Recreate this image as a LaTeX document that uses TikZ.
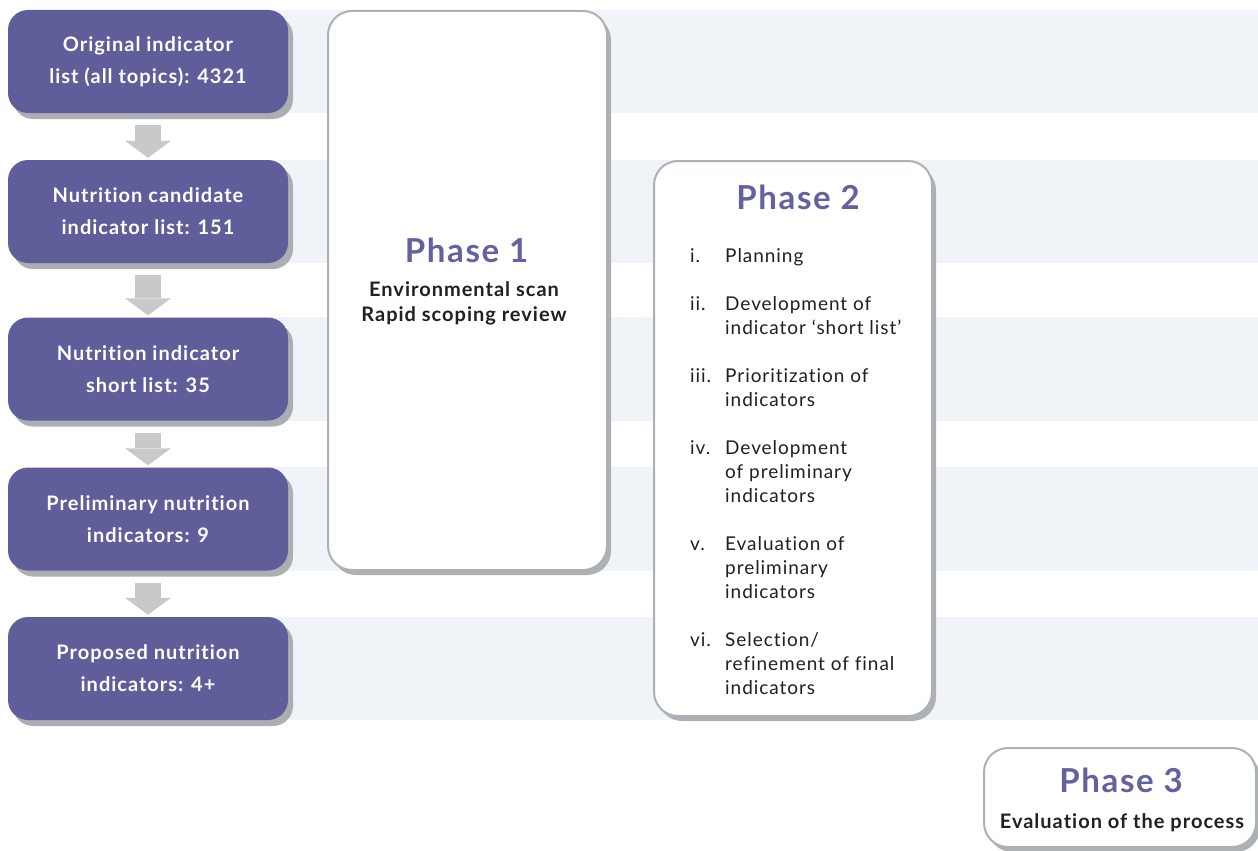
\documentclass[tikz,border=0pt]{standalone}
\usepackage{fontspec}
\setmainfont{Lato}[LetterSpace=5, Ligatures={TeX,NoCommon}]
\usetikzlibrary{arrows.meta,shadows,backgrounds}

\definecolor{stagepurple}{HTML}{605D9B}
\definecolor{titlepurple}{HTML}{6461A1}
\definecolor{shadowgray}{HTML}{ABAEB2}
\definecolor{bordergray}{HTML}{ADB0B4}
\definecolor{arrowgray}{HTML}{C8C9CB}
\definecolor{bandblue}{HTML}{F0F3F7}
\definecolor{darktext}{HTML}{231F20}

\begin{document}
\begin{tikzpicture}[x=1pt, y=-1pt,
	stage/.style={fill=stagepurple, text=white, rounded corners=20pt, minimum width=280pt, minimum height=103pt, align=center, inner sep=0pt,
		font=\bfseries\fontsize{20}{32}\selectfont, drop shadow={shadow xshift=5pt, shadow yshift=-6pt, fill=shadowgray, opacity=1}},
	phasebox/.style={draw=bordergray, line width=2pt, fill=white, rounded corners=24pt, inner sep=0pt,
		drop shadow={shadow xshift=4pt, shadow yshift=-5pt, fill=bordergray, opacity=1}},
	phasetitle/.style={text=titlepurple, font=\bfseries\fontsize{33}{40}\selectfont, inner sep=0pt, anchor=base},
	phasenote/.style={text=darktext, font=\bfseries\fontsize{20}{25}\selectfont, align=center, inner sep=0pt},
	flowarrow/.style={draw=arrowgray, line width=26.5pt, -{Triangle[width=46pt, length=17pt, line width=0pt]}, shorten <=12pt, shorten >=2pt}]
	\useasboundingbox (0,0) rectangle (1258,851);
	\coordinate (edge) at (1258,0);

	\node [stage] (o1) at (148,61.5) {Original indicator\\list (all topics): 4321};
	\node [stage] (o2) at (148,211.5) {Nutrition candidate\\indicator list: 151};
	\node [stage] (o3) at (148,369) {Nutrition indicator\\short list: 35};
	\node [stage] (o4) at (148,519) {Preliminary nutrition\\indicators: 9};
	\node [stage] (o5) at (148,668.5) {Proposed nutrition\\indicators: 4+};

	\begin{scope}[on background layer]
		\foreach \n in {1,...,5}
			\fill [bandblue] (o\n.north) rectangle (o\n.south -| edge);
	\end{scope}

	\foreach \a/\b in {o1/o2, o2/o3, o3/o4, o4/o5}
		\draw [flowarrow] (\a) -- (\b);

	\node [phasebox, minimum width=279pt, minimum height=559pt] (phase1) at (467.5,290.5) {};
	\node [phasebox, minimum width=278pt, minimum height=555pt] (phase2) at (793,438.5) {};
	\node [phasebox, minimum width=272pt, minimum height=99pt] (phase3) at (1120,797.5) {};

	\node [phasetitle] (p1title) at (466.5,262) {Phase 1};
	\node [phasenote, anchor=north] (p1note) at (464,281) {Environmental scan\\Rapid scoping review};

	\node [phasetitle] (p2title) at (798,209) {Phase 2};
	\node [anchor=north west, inner sep=0pt, text=darktext, font=\fontsize{19}{24}\selectfont] (p2steps) at (690,245) {%
		\begin{tabular}{@{}p{35pt}@{}l@{}}
			i. & Planning\\[24pt]
			ii. & Development of\\
			& indicator ‘short list’\\[24pt]
			iii. & Prioritization of\\
			& indicators\\[24pt]
			iv. & Development\\
			& of preliminary\\
			& indicators\\[24pt]
			v. & Evaluation of\\
			& preliminary\\
			& indicators\\[24pt]
			vi. & Selection/\\
			& refinement of final\\
			& indicators
		\end{tabular}};

	\node [phasetitle] (p3title) at (1121,792) {Phase 3};
	\node [phasenote, anchor=base] (p3note) at (1122,828) {Evaluation of the process};
\end{tikzpicture}
\end{document}
